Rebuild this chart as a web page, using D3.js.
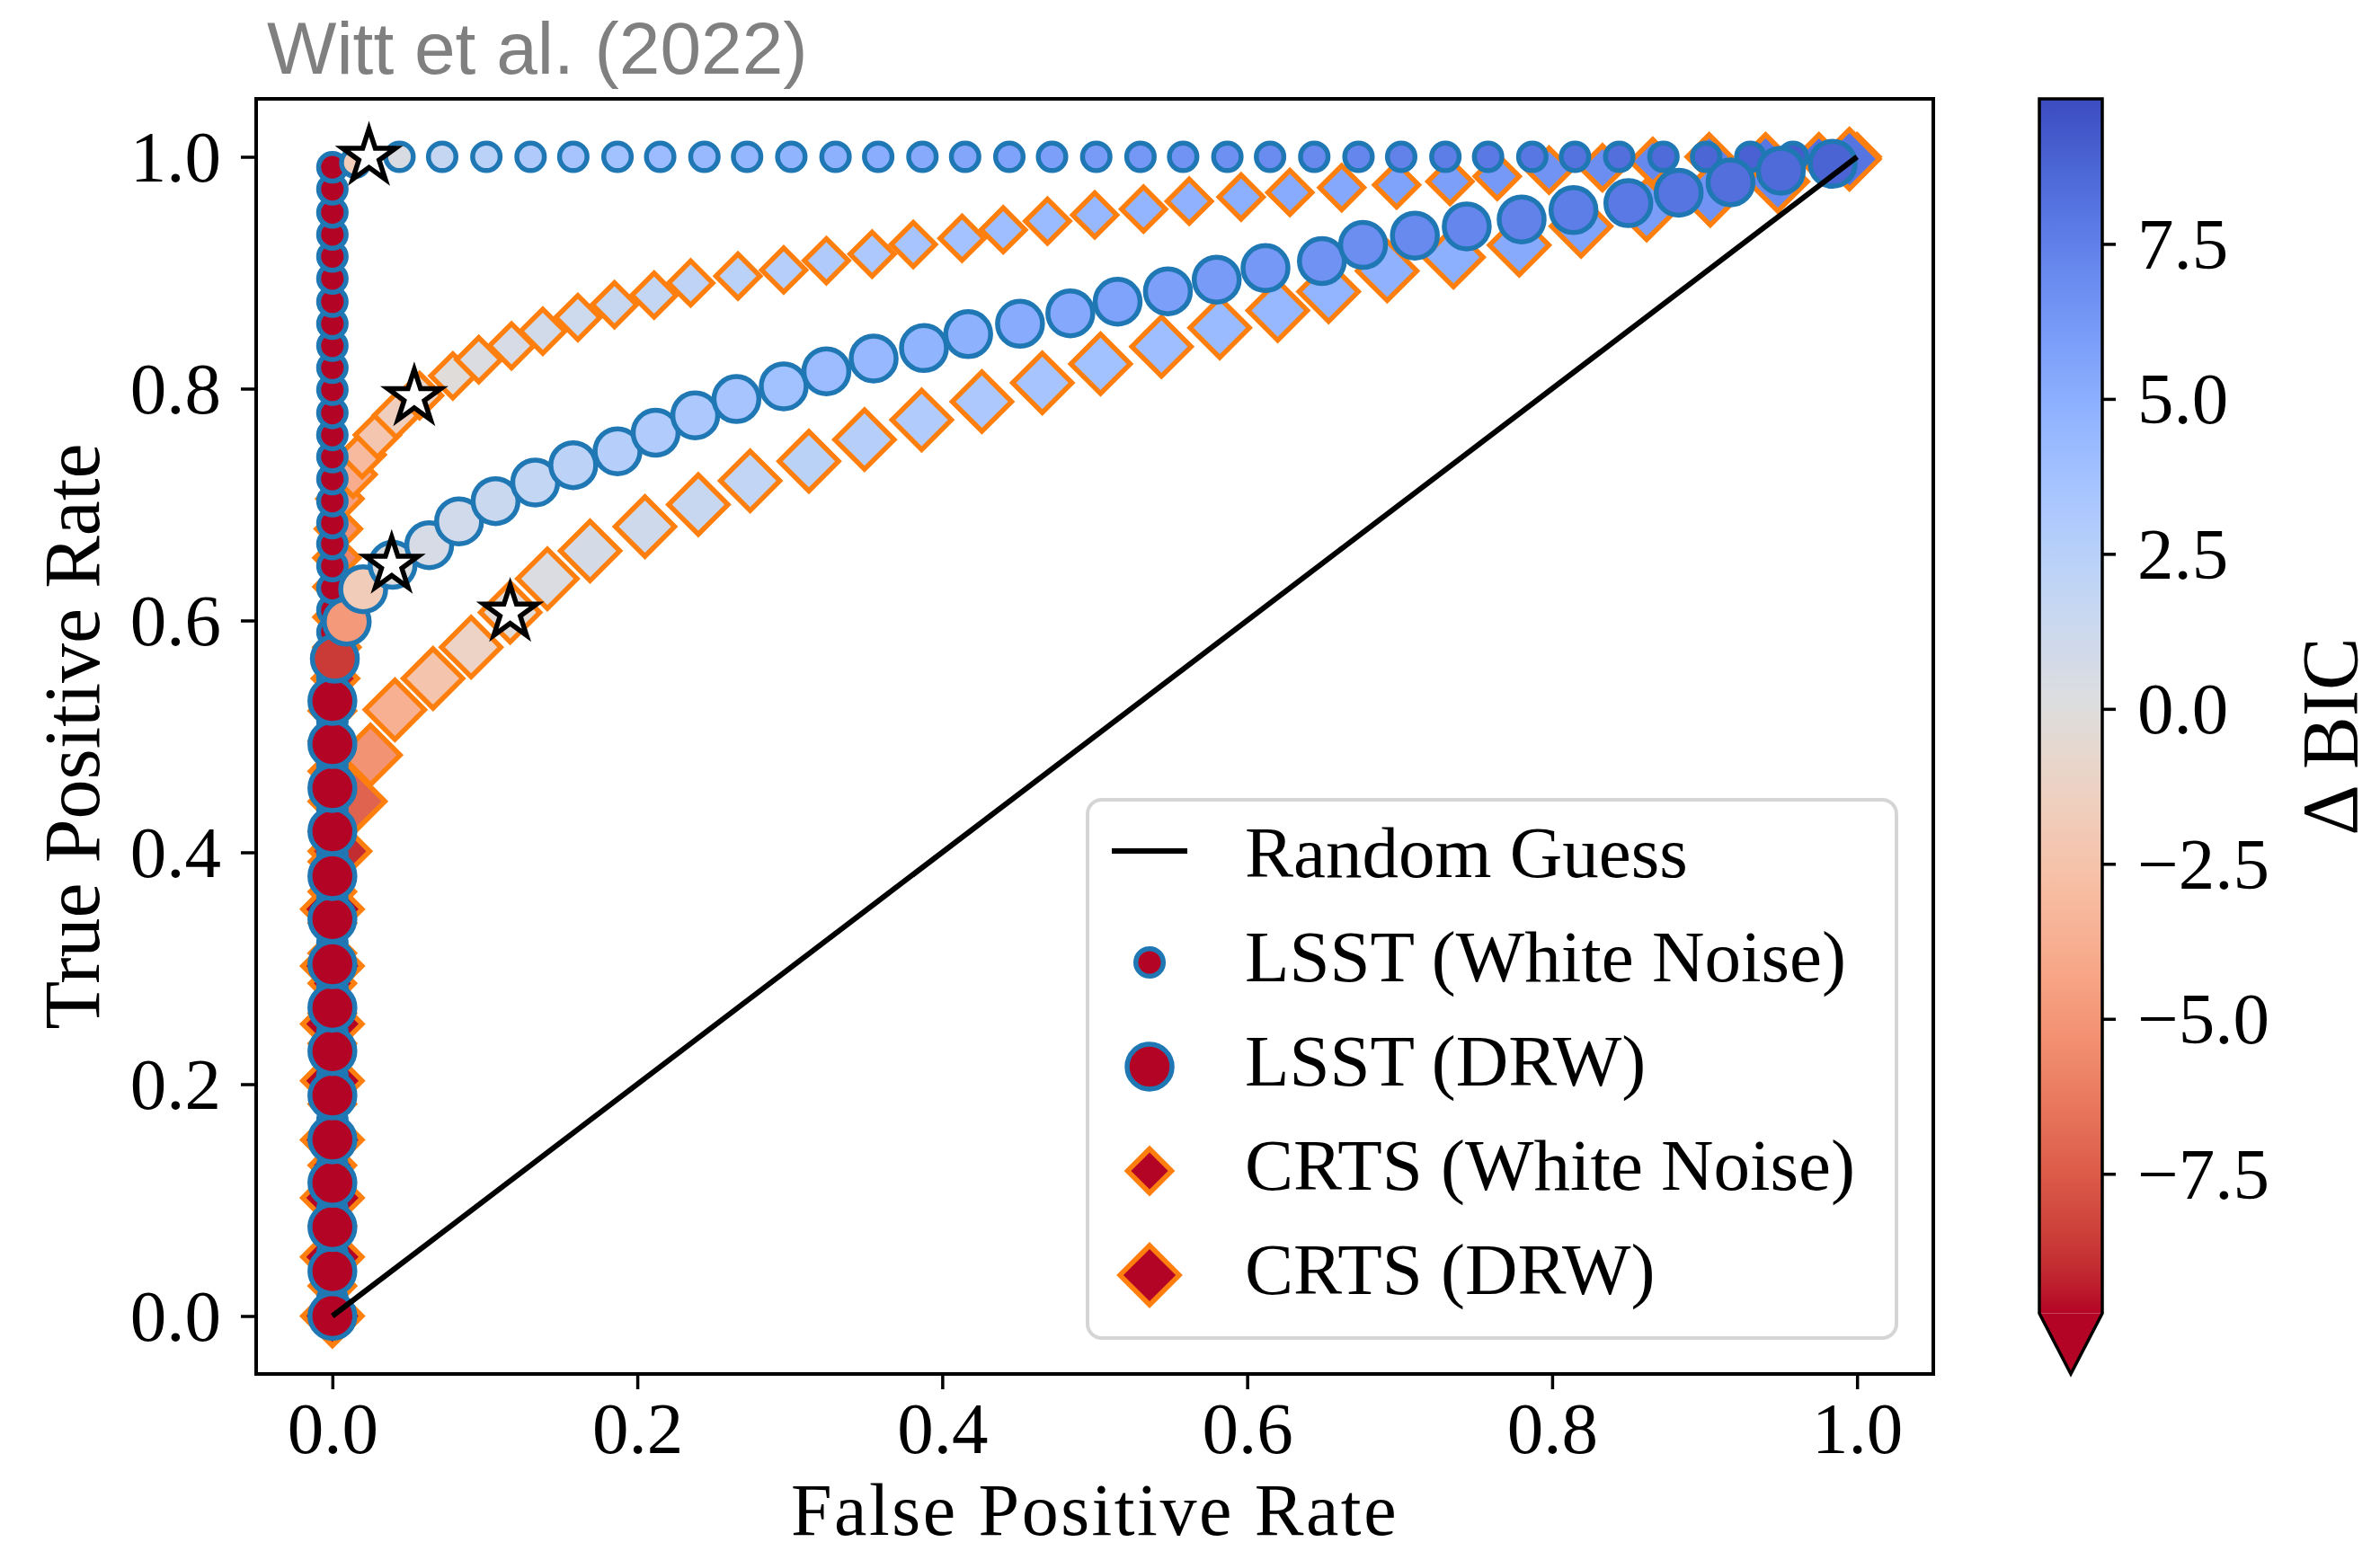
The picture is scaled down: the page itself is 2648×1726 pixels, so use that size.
<!DOCTYPE html>
<html>
<head>
<meta charset="utf-8">
<script src="https://cdn.jsdelivr.net/npm/d3@7"></script>
<style>
  html, body { margin: 0; padding: 0; background: #ffffff; }
  svg { display: block; }
  text { font-family: "Liberation Serif", "Times New Roman", serif; fill: #000; }
</style>
</head>
<body>
<svg id="chart" width="2648" height="1726"></svg>
<script>
// ---------- data ----------
const xTicks = [0, 0.2, 0.4, 0.6, 0.8, 1.0];
const yTicks = [0, 0.2, 0.4, 0.6, 0.8, 1.0];
const cbarTicks = [-7.5, -5, -2.5, 0, 2.5, 5, 7.5];
const bicRange = [-9.75, 9.84];          // colour normalisation (values below -> under colour)
const randomGuess = [[0, 0], [1, 1]];

// each point: [false positive rate, true positive rate, delta BIC threshold]
const lsstWhiteNoise = [
  [0,0,-12],[0,0.015,-12],[0,0.035,-12],[0,0.054,-12],[0,0.073,-12],[0,0.092,-12],[0,0.111,-12],
  [0,0.130,-12],[0,0.150,-12],[0,0.169,-12],[0,0.188,-12],[0,0.207,-12],[0,0.226,-12],[0,0.245,-12],
  [0,0.264,-12],[0,0.283,-12],[0,0.303,-12],[0,0.322,-12],[0,0.341,-12],[0,0.360,-12],[0,0.379,-12],
  [0,0.398,-12],[0,0.418,-12],[0,0.437,-12],[0,0.456,-12],[0,0.475,-12],[0,0.494,-12],[0,0.513,-12],
  [0,0.532,-12],[0,0.551,-12],[0,0.571,-12],[0,0.590,-12],[0,0.609,-12],[0,0.628,-12],[0,0.647,-12],
  [0,0.666,-12],[0,0.684,-12],[0,0.703,-12],[0,0.722,-12],[0,0.741,-12],[0,0.760,-12],[0,0.779,-12],
  [0,0.799,-12],[0,0.818,-12],[0,0.837,-12],[0,0.856,-12],[0,0.875,-12],[0,0.895,-12],[0,0.914,-12],
  [0,0.933,-12],[0,0.952,-12],[0,0.972,-12],[0,0.991,-12],
  [0.015,0.995,-1.8],[0.044,1,0.4],[0.072,1,1.7],[0.101,1,2.4],[0.130,1,3.0],[0.158,1,3.5],
  [0.187,1,3.8],[0.215,1,4.1],[0.244,1,4.3],[0.272,1,4.5],[0.301,1,4.7],[0.330,1,4.9],[0.358,1,5.1],
  [0.387,1,5.3],[0.415,1,5.5],[0.444,1,5.7],[0.472,1,5.9],[0.501,1,6.1],[0.530,1,6.3],[0.558,1,6.5],
  [0.587,1,6.7],[0.615,1,6.9],[0.644,1,7.0],[0.673,1,7.2],[0.701,1,7.4],[0.730,1,7.6],[0.758,1,7.8],
  [0.787,1,7.9],[0.815,1,8.1],[0.844,1,8.3],[0.873,1,8.5],[0.901,1,8.7],[0.930,1,8.9],[0.958,1,9.2],
  [0.987,1,9.4]
];

const lsstDRW = [
  [0,0,-12],[0,0.0387,-12],[0,0.0767,-12],[0,0.1149,-12],[0,0.1524,-12],[0,0.1903,-12],[0,0.2285,-12],
  [0,0.2659,-12],[0,0.3034,-12],[0,0.3424,-12],[0,0.3795,-12],[0,0.4183,-12],[0,0.4555,-12],
  [0,0.4934,-12],[0,0.5306,-12],
  [0.0016,0.567,-8.6],[0.0094,0.599,-4.9],[0.0202,0.627,-1.8],[0.0395,0.648,0.1],[0.0635,0.665,0.6],
  [0.0831,0.6855,1.0],[0.107,0.703,1.4],[0.133,0.719,1.8],[0.158,0.734,2.2],[0.187,0.746,2.6],
  [0.212,0.762,2.9],[0.238,0.777,3.2],[0.265,0.791,3.5],[0.296,0.802,3.8],[0.324,0.815,4.1],
  [0.355,0.826,4.4],[0.388,0.835,4.7],[0.417,0.847,4.9],[0.451,0.856,5.2],[0.484,0.865,5.4],
  [0.515,0.875,5.7],[0.548,0.884,5.9],[0.580,0.894,6.1],[0.612,0.904,6.3],[0.649,0.910,6.6],
  [0.676,0.924,6.8],[0.710,0.932,7.0],[0.744,0.940,7.2],[0.780,0.946,7.4],[0.814,0.954,7.6],
  [0.850,0.960,7.8],[0.883,0.969,8.0],[0.917,0.978,8.3],[0.950,0.988,8.5],[0.984,0.994,8.8]
];

const crtsWhiteNoise = [
  [0,0,-12],[0,0.026,-12],[0,0.052,-12],[0,0.078,-12],[0,0.104,-12],[0,0.130,-12],[0,0.157,-12],
  [0,0.183,-12],[0,0.209,-12],[0,0.235,-12],[0,0.261,-12],[0,0.287,-12],[0,0.313,-12],[0,0.339,-12],
  [0,0.366,-12],[0,0.392,-12],[0,0.418,-12],[0,0.444,-12],[0,0.470,-12],[0,0.496,-12],[0,0.522,-12],
  [0.002,0.550,-9.3],[0.003,0.577,-8.2],[0.003,0.603,-7.2],[0.003,0.629,-6.4],[0.003,0.654,-5.8],
  [0.004,0.679,-5.2],[0.005,0.705,-4.6],[0.0136,0.726,-3.9],[0.0195,0.743,-3.1],[0.0295,0.760,-2.3],
  [0.0419,0.777,-1.6],[0.0572,0.794,-0.9],[0.079,0.811,-0.1],[0.096,0.825,0.3],[0.1175,0.837,0.6],
  [0.138,0.8496,0.9],[0.161,0.8614,1.2],[0.185,0.8724,1.5],[0.211,0.8807,1.8],[0.235,0.8911,2.1],
  [0.266,0.8971,2.4],[0.296,0.9024,2.7],[0.324,0.9104,3.0],[0.354,0.916,3.2],[0.381,0.9244,3.5],
  [0.413,0.9297,3.7],[0.440,0.9371,4.0],[0.469,0.9445,4.2],[0.500,0.9499,4.4],[0.532,0.9549,4.6],
  [0.562,0.9617,4.8],[0.596,0.9653,5.0],[0.628,0.9692,5.2],[0.662,0.9734,5.4],[0.698,0.9757,5.7],
  [0.733,0.9787,5.9],[0.764,0.9831,6.2],[0.798,0.9884,6.5],[0.833,0.9906,6.8],[0.866,0.996,7.1],
  [0.903,1.0,7.5],[0.940,1.0,7.9],[0.975,1.0,8.3],[1.0,1.0,8.7]
];

const crtsDRW = [
  [0,0,-12],[0,0.051,-12],[0,0.102,-12],[0,0.152,-12],[0,0.203,-12],[0,0.252,-12],[0,0.302,-12],
  [0,0.351,-12],[0.005,0.401,-9.0],[0.015,0.444,-7.2],[0.025,0.484,-5.2],[0.041,0.523,-3.7],
  [0.066,0.550,-2.4],[0.091,0.577,-1.2],[0.1166,0.607,-0.3],[0.141,0.636,0.3],[0.169,0.660,0.7],
  [0.205,0.681,1.1],[0.240,0.700,1.5],[0.274,0.7205,1.9],[0.3125,0.7374,2.3],[0.349,0.7561,2.6],
  [0.3865,0.773,2.9],[0.426,0.7888,3.2],[0.4656,0.805,3.5],[0.5038,0.8214,3.8],[0.5438,0.8363,4.0],
  [0.582,0.8525,4.2],[0.620,0.8674,4.4],[0.6534,0.8837,4.6],[0.6918,0.9016,4.8],[0.7353,0.9134,5.0],
  [0.7784,0.9238,5.3],[0.819,0.9401,5.6],[0.862,0.9541,6.0],[0.9037,0.9668,6.5],[0.948,0.9787,7.0],
  [0.995,0.998,8.0]
];

// chosen operating point on each curve: [fpr, tpr]
const bestPoints = [[0.024, 1.0], [0.0537, 0.7926], [0.0389, 0.648], [0.1166, 0.6067]];

const legendLabels = ["Random Guess", "LSST (White Noise)", "LSST (DRW)", "CRTS (White Noise)", "CRTS (DRW)"];
const titleText = "Witt et al. (2022)";

// ---------- colour map (matplotlib coolwarm, reversed via the norm) ----------
const coolwarmStops = [
  "#3b4cc0","#445acc","#4d68d7","#5775e1","#6282ea","#6c8ef1","#779af7","#82a5fb","#8db0fe",
  "#98b9ff","#a3c2ff","#aec9fd","#b8d0f9","#c2d5f4","#ccd9ee","#d5dbe6","#dddddd","#e5d8d1",
  "#ecd3c5","#f1ccb9","#f5c4ad","#f7bba0","#f7b194","#f7a687","#f49a7b","#f18d6f","#ec7f63",
  "#e57058","#de604d","#d55042","#cb3e38","#c0282f","#b40426"
];
const coolwarm = d3.scaleLinear()
  .domain(coolwarmStops.map((_, i) => i / (coolwarmStops.length - 1)))
  .range(coolwarmStops)
  .interpolate(d3.interpolateRgb)
  .clamp(true);
const norm = d3.scaleLinear().domain(bicRange).range([1, 0]).clamp(true);
const underColor = coolwarm(1);
const bicColor = v => (v < bicRange[0] ? underColor : coolwarm(norm(v)));

// ---------- layout ----------
const svg = d3.select("#chart");
const plot = { left: 285, right: 2151, top: 110, bottom: 1529 };
const x = d3.scaleLinear().domain([-0.05, 1.05]).range([plot.left, plot.right]);
const y = d3.scaleLinear().domain([-0.05, 1.05]).range([plot.bottom, plot.top]);

const BLUE_EDGE = "#1f77b4";
const ORANGE_EDGE = "#ff7f0e";
const EDGE_WIDTH = 5.5;
const TICK_FONT = 81;
const LABEL_FONT = 88;

// title
svg.append("text")
  .attr("x", 297).attr("y", 82)
  .style("font-family", "'Liberation Sans', Arial, sans-serif")
  .style("font-size", "82px")
  .style("fill", "#808080")
  .text(titleText);

// ---------- markers ----------
const markers = svg.append("g");

function drawSeries(data, shape, size, rotate, edge) {
  markers.append("g").selectAll("path").data(data).join("path")
    .attr("d", d3.symbol(shape, size)())
    .attr("transform", d => `translate(${x(d[0])},${y(d[1])}) rotate(${rotate})`)
    .attr("fill", d => bicColor(d[2]))
    .attr("stroke", edge)
    .attr("stroke-width", EDGE_WIDTH)
    .attr("stroke-linejoin", "miter");
}

const diamondSmall = 2 * 24.5 * 24.5; // square area, half diagonal 24.5
const diamondLarge = 2 * 33 * 33;     // half diagonal 33
const circleSmall = Math.PI * 15.3 * 15.3;
const circleLarge = Math.PI * 25 * 25;

drawSeries(crtsWhiteNoise, d3.symbolSquare, diamondSmall, 45, ORANGE_EDGE);
drawSeries(crtsDRW, d3.symbolSquare, diamondLarge, 45, ORANGE_EDGE);
drawSeries(lsstWhiteNoise, d3.symbolCircle, circleSmall, 0, BLUE_EDGE);
drawSeries(lsstDRW, d3.symbolCircle, circleLarge, 0, BLUE_EDGE);

// random guess diagonal
svg.append("path")
  .datum(randomGuess)
  .attr("d", d3.line().x(d => x(d[0])).y(d => y(d[1])))
  .attr("fill", "none")
  .attr("stroke", "#000")
  .attr("stroke-width", 6);

// operating-point stars
const starSize = 31 * 31 / 0.8908130915292852;
svg.append("g").selectAll("path").data(bestPoints).join("path")
  .attr("d", d3.symbol(d3.symbolStar, starSize)())
  .attr("transform", d => `translate(${x(d[0])},${y(d[1])})`)
  .attr("fill", "#ffffff")
  .attr("stroke", "#000")
  .attr("stroke-width", 5.5)
  .attr("stroke-linejoin", "miter");

// ---------- axes ----------
const xAxis = svg.append("g")
  .attr("transform", `translate(0,${plot.bottom})`)
  .call(d3.axisBottom(x).tickValues(xTicks).tickFormat(d3.format(".1f")).tickSize(17).tickSizeOuter(0));
xAxis.select(".domain").remove();
xAxis.selectAll(".tick line").attr("stroke", "#000").attr("stroke-width", 3.5);
xAxis.selectAll(".tick text")
  .attr("y", 88).attr("dy", null)
  .style("font-size", TICK_FONT + "px")
  .style("font-family", "'Liberation Serif', serif");

const yAxis = svg.append("g")
  .attr("transform", `translate(${plot.left},0)`)
  .call(d3.axisLeft(y).tickValues(yTicks).tickFormat(d3.format(".1f")).tickSize(17).tickPadding(22).tickSizeOuter(0));
yAxis.select(".domain").remove();
yAxis.selectAll(".tick line").attr("stroke", "#000").attr("stroke-width", 3.5);
yAxis.selectAll(".tick text")
  .attr("dy", "0.33em")
  .style("font-size", TICK_FONT + "px")
  .style("font-family", "'Liberation Serif', serif");

// frame
svg.append("rect")
  .attr("x", plot.left).attr("y", plot.top)
  .attr("width", plot.right - plot.left).attr("height", plot.bottom - plot.top)
  .attr("fill", "none").attr("stroke", "#000").attr("stroke-width", 4);

// axis titles
svg.append("text")
  .attr("x", (plot.left + plot.right) / 2).attr("y", 1708)
  .attr("text-anchor", "middle")
  .style("font-size", "82px")
  .style("letter-spacing", "2.5px")
  .text("False Positive Rate");

svg.append("text")
  .attr("transform", `translate(110,${(plot.top + plot.bottom) / 2}) rotate(-90)`)
  .attr("text-anchor", "middle")
  .style("font-size", LABEL_FONT + "px")
  .text("True Positive Rate");

// ---------- legend ----------
const legend = svg.append("g");
legend.append("rect")
  .attr("x", 1210).attr("y", 890).attr("width", 900).attr("height", 599)
  .attr("rx", 16).attr("ry", 16)
  .attr("fill", "#ffffff").attr("fill-opacity", 0.8)
  .attr("stroke", "#d5d5d5").attr("stroke-width", 4);

const legendKinds = [
  { type: "line" },
  { type: "circle", size: circleSmall, edge: BLUE_EDGE },
  { type: "circle", size: circleLarge, edge: BLUE_EDGE },
  { type: "diamond", size: diamondSmall, edge: ORANGE_EDGE },
  { type: "diamond", size: diamondLarge, edge: ORANGE_EDGE }
];
const rowBaseline = i => 976 + i * 116;
const handleX = 1279;

legendLabels.forEach((label, i) => {
  const kind = legendKinds[i];
  const base = rowBaseline(i);
  if (kind.type === "line") {
    legend.append("line")
      .attr("x1", handleX - 42).attr("x2", handleX + 42)
      .attr("y1", base - 29).attr("y2", base - 29)
      .attr("stroke", "#000").attr("stroke-width", 6);
  } else {
    const shape = kind.type === "circle" ? d3.symbolCircle : d3.symbolSquare;
    const rot = kind.type === "circle" ? 0 : 45;
    legend.append("path")
      .attr("d", d3.symbol(shape, kind.size)())
      .attr("transform", `translate(${handleX},${base - 21}) rotate(${rot})`)
      .attr("fill", underColor)
      .attr("stroke", kind.edge).attr("stroke-width", EDGE_WIDTH);
  }
  legend.append("text")
    .attr("x", 1385).attr("y", base)
    .style("font-size", TICK_FONT + "px")
    .text(label);
});

// ---------- colour bar ----------
const cb = { left: 2269, width: 70, top: plot.top, bottom: 1461.5, tip: plot.bottom };
const cbScale = d3.scaleLinear().domain(bicRange).range([cb.bottom, cb.top]);

const defs = svg.append("defs");
const grad = defs.append("linearGradient")
  .attr("id", "bicGradient")
  .attr("x1", 0).attr("y1", 1).attr("x2", 0).attr("y2", 0);
grad.selectAll("stop").data(d3.range(0, 1.0001, 0.02)).join("stop")
  .attr("offset", d => d)
  .attr("stop-color", d => bicColor(bicRange[0] + d * (bicRange[1] - bicRange[0])));

svg.append("rect")
  .attr("x", cb.left).attr("y", cb.top)
  .attr("width", cb.width).attr("height", cb.bottom - cb.top)
  .attr("fill", "url(#bicGradient)");

svg.append("path")
  .attr("d", `M${cb.left},${cb.bottom}L${cb.left + cb.width / 2},${cb.tip}L${cb.left + cb.width},${cb.bottom}Z`)
  .attr("fill", underColor);

svg.append("path")
  .attr("d", `M${cb.left},${cb.top}L${cb.left + cb.width},${cb.top}L${cb.left + cb.width},${cb.bottom}` +
             `L${cb.left + cb.width / 2},${cb.tip}L${cb.left},${cb.bottom}Z`)
  .attr("fill", "none").attr("stroke", "#000").attr("stroke-width", 3.5)
  .attr("stroke-linejoin", "miter");

const cbAxis = svg.append("g")
  .attr("transform", `translate(${cb.left + cb.width},0)`)
  .call(d3.axisRight(cbScale).tickValues(cbarTicks).tickFormat(d3.format(".1f")).tickSize(15).tickPadding(24).tickSizeOuter(0));
cbAxis.select(".domain").remove();
cbAxis.selectAll(".tick line").attr("stroke", "#000").attr("stroke-width", 3.5);
cbAxis.selectAll(".tick text")
  .attr("dy", "0.33em")
  .style("font-size", TICK_FONT + "px")
  .style("font-family", "'Liberation Serif', serif");

svg.append("text")
  .attr("transform", `translate(2622,${(plot.top + plot.bottom) / 2}) rotate(-90)`)
  .attr("text-anchor", "middle")
  .style("font-size", LABEL_FONT + "px")
  .text("\u0394 BIC");
</script>
</body>
</html>
